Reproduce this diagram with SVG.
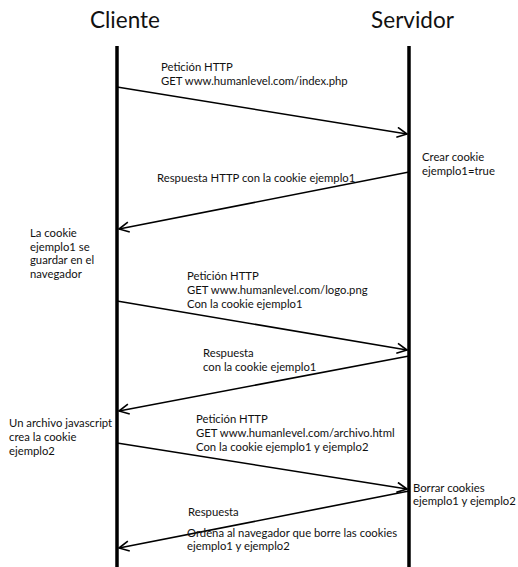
<svg xmlns="http://www.w3.org/2000/svg" width="518" height="567" viewBox="0 0 518 567">
<style>
.h{font-family:Lato,"Liberation Sans",sans-serif;font-size:22.5px;fill:#111}
.t{font-family:Lato,"Liberation Sans",sans-serif;font-size:11.3px;fill:#111}
.life{stroke:#000;stroke-width:3.5;fill:none}
.msg{stroke:#000;stroke-width:1.6;fill:none}
</style>
<defs>
<marker id="ah" viewBox="0 0 12 12" refX="11" refY="6" markerWidth="12" markerHeight="12" markerUnits="userSpaceOnUse" orient="auto">
<path d="M1,1 L11,6 L1,11" fill="none" stroke="#000" stroke-width="1.6"/>
</marker>
</defs>
<rect width="518" height="567" fill="#fff"/>
<g id="cliente">
<text class="h" x="125" y="28" text-anchor="middle">Cliente</text>
<line class="life" x1="117" y1="46" x2="117" y2="567"/>
</g>
<g id="servidor">
<text class="h" x="412.5" y="28" text-anchor="middle">Servidor</text>
<line class="life" x1="409" y1="46" x2="409" y2="567"/>
</g>
<g id="connectors">
<line class="msg" x1="117" y1="87" x2="407" y2="134" marker-end="url(#ah)"/>
<line class="msg" x1="409" y1="172" x2="119" y2="229" marker-end="url(#ah)"/>
<line class="msg" x1="117" y1="301" x2="407" y2="350" marker-end="url(#ah)"/>
<line class="msg" x1="409" y1="356" x2="119" y2="411" marker-end="url(#ah)"/>
<line class="msg" x1="117" y1="443" x2="407" y2="489" marker-end="url(#ah)"/>
<line class="msg" x1="409" y1="491" x2="119" y2="548" marker-end="url(#ah)"/>
</g>
<g id="labels">
<text class="t" x="161" y="71">Petición HTTP</text>
<text class="t" x="161" y="85">GET www.humanlevel.com/index.php</text>
<text class="t" x="422" y="161">Crear cookie</text>
<text class="t" x="422" y="175">ejemplo1=true</text>
<text class="t" x="157" y="182">Respuesta HTTP con la cookie ejemplo1</text>
<text class="t" x="30" y="237">La cookie</text>
<text class="t" x="30" y="251">ejemplo1 se</text>
<text class="t" x="30" y="264">guardar en el</text>
<text class="t" x="30" y="278">navegador</text>
<text class="t" x="187" y="280">Petición HTTP</text>
<text class="t" x="187" y="294">GET www.humanlevel.com/logo.png</text>
<text class="t" x="187" y="308">Con la cookie ejemplo1</text>
<text class="t" x="203" y="357">Respuesta</text>
<text class="t" x="203" y="371">con la cookie ejemplo1</text>
<text class="t" x="9" y="427">Un archivo javascript</text>
<text class="t" x="9" y="441">crea la cookie</text>
<text class="t" x="9" y="455">ejemplo2</text>
<text class="t" x="196" y="423">Petición HTTP</text>
<text class="t" x="196" y="437">GET www.humanlevel.com/archivo.html</text>
<text class="t" x="196" y="451">Con la cookie ejemplo1 y ejemplo2</text>
<text class="t" x="413" y="492">Borrar cookies</text>
<text class="t" x="413" y="505">ejemplo1 y ejemplo2</text>
<text class="t" x="188" y="516">Respuesta</text>
<text class="t" x="187" y="537">Ordena al navegador que borre las cookies</text>
<text class="t" x="187" y="550">ejemplo1 y ejemplo2</text>
</g>
</svg>
